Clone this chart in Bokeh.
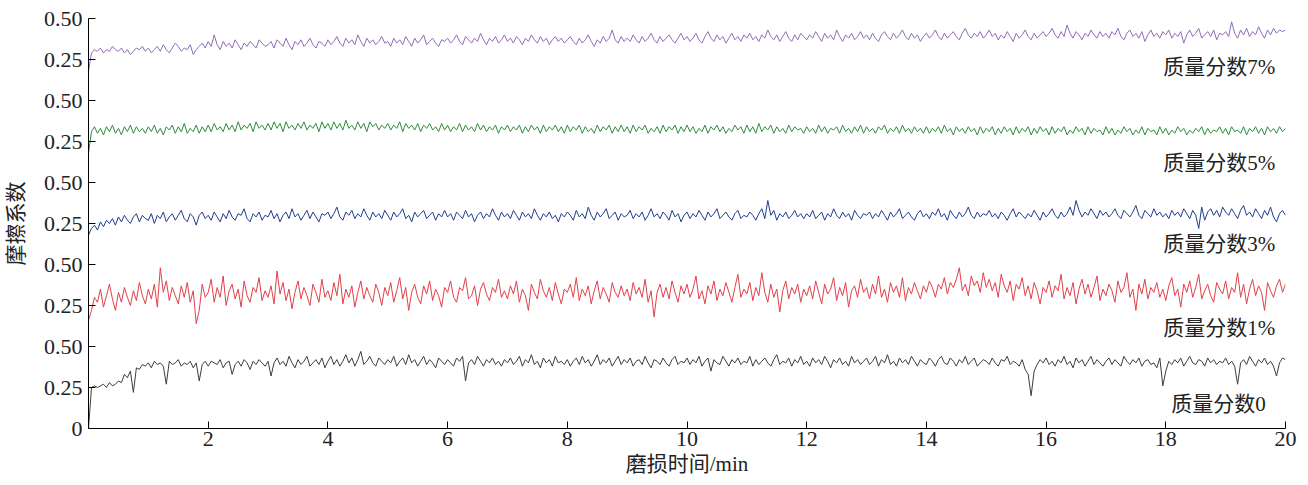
import numpy as np
from bokeh.plotting import figure
from bokeh.models import Range1d, FixedTicker, Label
from bokeh.embed import file_html
from bokeh.resources import INLINE

# friction coefficient traces (units of 0.01), sampled every 0.05 min from 0 to 20 min
mf0 = [
    0, 25, 26, 25, 26, 27, 25, 28, 26, 27, 29, 28, 33, 31, 35, 22, 37, 36, 39, 38,
    40, 37, 41, 39, 40, 38, 27, 41, 39, 40, 42, 38, 40, 39, 41, 37, 40, 29, 39, 41,
    38, 41, 40, 39, 42, 37, 40, 41, 33, 39, 41, 38, 42, 40, 36, 41, 39, 42, 40, 38,
    41, 32, 40, 43, 39, 41, 38, 44, 40, 37, 42, 39, 41, 44, 38, 40, 42, 39, 43, 37,
    41, 44, 39, 42, 38, 41, 45, 40, 43, 38, 42, 47, 39, 41, 44, 40, 38, 43, 41, 39,
    42, 40, 44, 38, 41, 43, 39, 45, 40, 42, 38, 41, 44, 39, 42, 40, 37, 43, 41, 39,
    42, 40, 38, 43, 41, 44, 29, 40, 42, 39, 44, 41, 38, 42, 40, 43, 39, 41, 38, 42,
    40, 43, 39, 41, 44, 38, 42, 40, 45, 39, 41, 37, 43, 40, 42, 38, 44, 40, 41, 39,
    42, 38, 41, 43, 39, 44, 40, 42, 38, 41, 45, 39, 42, 40, 43, 38, 41, 44, 39, 42,
    40, 43, 38, 41, 42, 39, 44, 40, 37, 42, 41, 39, 43, 40, 38, 42, 44, 39, 41, 40,
    43, 39, 42, 40, 44, 38, 41, 43, 35, 42, 40, 39, 44, 41, 38, 42, 40, 43, 39, 41,
    40, 44, 38, 42, 39, 41, 43, 40, 38, 42, 45, 39, 41, 40, 43, 38, 42, 40, 44, 39,
    41, 38, 43, 40, 42, 39, 44, 41, 37, 42, 40, 43, 39, 41, 38, 44, 40, 42, 39, 41,
    43, 39, 41, 44, 38, 42, 40, 45, 39, 41, 38, 43, 40, 42, 39, 44, 41, 38, 42, 40,
    39, 43, 41, 38, 42, 44, 40, 39, 43, 41, 38, 42, 40, 44, 39, 41, 43, 38, 40, 42,
    41, 39, 43, 40, 38, 42, 41, 44, 39, 41, 40, 38, 42, 36, 33, 20, 35, 39, 42, 40,
    43, 39, 41, 38, 42, 40, 44, 39, 41, 37, 43, 40, 42, 38, 41, 44, 39, 42, 40, 38,
    41, 43, 39, 42, 40, 38, 44, 41, 39, 42, 40, 43, 38, 41, 42, 39, 40, 37, 43, 26,
    35, 41, 39, 42, 40, 43, 38, 41, 44, 40, 39, 42, 41, 38, 43, 40, 42, 39, 41, 40,
    43, 39, 41, 38, 27, 40, 42, 39, 44, 41, 38, 42, 40, 43, 39, 41, 38, 32, 40, 43,
    42,
]
mf1 = [
    16, 22, 30, 27, 35, 24, 31, 38, 29, 22, 33, 27, 36, 30, 25, 34, 28, 39, 31, 26,
    35, 29, 38, 24, 48, 33, 40, 28, 36, 31, 26, 37, 30, 39, 27, 34, 14, 22, 38, 30,
    33, 41, 27, 36, 30, 43, 25, 34, 38, 29, 35, 24, 40, 31, 27, 36, 33, 42, 28, 34,
    30, 37, 26, 46, 32, 39, 28, 35, 23, 33, 40, 29, 36, 31, 25, 38, 33, 27, 41, 30,
    34, 28, 39, 31, 44, 26, 35, 30, 37, 24, 33, 40, 29, 36, 31, 27, 38, 33, 25, 36,
    31, 39, 27, 34, 42, 29, 36, 22, 33, 38, 30, 26, 37, 32, 40, 28, 35, 31, 24, 36,
    33, 40, 30, 27, 36, 34, 42, 29, 31, 37, 25, 35, 39, 32, 28, 36, 33, 41, 30, 34,
    29, 37, 32, 40, 27, 35, 31, 22, 38, 33, 29, 41, 34, 30, 36, 28, 39, 32, 26, 35,
    33, 38, 30, 42, 28, 35, 31, 37, 26, 34, 40, 29, 36, 32, 27, 39, 33, 30, 37, 31,
    35, 28, 39, 32, 36, 30, 41, 27, 34, 18, 33, 38, 30, 36, 29, 40, 33, 27, 37, 32,
    38, 30, 35, 43, 29, 34, 26, 37, 32, 40, 28, 35, 31, 39, 33, 27, 36, 44, 30, 35,
    32, 39, 28, 36, 31, 45, 33, 27, 38, 30, 35, 21, 34, 40, 29, 36, 32, 38, 27, 35,
    31, 37, 29, 40, 33, 26, 38, 32, 35, 42, 28, 36, 31, 39, 24, 34, 37, 30, 41, 33,
    36, 29, 38, 32, 43, 30, 35, 27, 39, 33, 37, 30, 42, 28, 36, 32, 39, 34, 29, 37,
    33, 40, 36, 30, 38, 35, 42, 32, 39, 36, 41, 48, 34, 38, 31, 43, 37, 40, 33, 45,
    36, 41, 34, 39, 30, 44, 37, 33, 40, 28, 38, 35, 42, 31, 37, 29, 39, 34, 26, 36,
    33, 40, 30, 37, 34, 44, 29, 36, 31, 39, 26, 35, 41, 32, 38, 30, 36, 43, 28, 35,
    31, 38, 34, 27, 40, 33, 36, 45, 30, 35, 22, 38, 32, 41, 29, 36, 33, 39, 30, 35,
    28, 37, 42, 31, 35, 24, 38, 33, 40, 30, 36, 44, 29, 34, 38, 31, 27, 39, 35, 32,
    40, 29, 36, 33, 45, 30, 38, 26, 35, 41, 31, 37, 33, 22, 39, 34, 30, 37, 41, 33,
    38,
]
mf3 = [
    18, 22, 24, 21, 26, 23, 27, 25, 28, 24, 29, 26, 30, 27, 25, 29, 31, 26, 30, 28,
    27, 31, 25, 30, 28, 32, 26, 29, 31, 27, 30, 33, 28, 26, 31, 29, 24, 30, 32, 28,
    30, 27, 32, 29, 26, 31, 28, 33, 29, 27, 31, 30, 34, 28, 26, 31, 29, 32, 27, 30,
    29, 33, 28, 31, 26, 30, 32, 28, 34, 29, 31, 27, 30, 33, 28, 32, 29, 26, 31, 30,
    32, 28, 31, 35, 29, 27, 32, 30, 33, 28, 31, 29, 34, 30, 27, 32, 29, 31, 28, 33,
    30, 27, 32, 29, 31, 34, 28, 30, 26, 32, 29, 31, 33, 28, 30, 32, 27, 31, 29, 33,
    29, 31, 27, 32, 30, 28, 33, 29, 31, 26, 30, 32, 28, 31, 29, 34, 30, 27, 32, 29,
    31, 28, 33, 30, 27, 32, 29, 31, 28, 34, 30, 27, 31, 29, 32, 28, 30, 26, 31, 29,
    32, 30, 27, 33, 29, 31, 28, 35, 30, 27, 32, 29, 31, 34, 28, 30, 32, 27, 31, 29,
    30, 33, 28, 31, 29, 32, 27, 30, 34, 29, 31, 28, 32, 30, 27, 33, 29, 31, 26, 30,
    32, 28, 31, 29, 33, 30, 27, 32, 29, 31, 34, 28, 30, 32, 29, 27, 31, 33, 28, 30,
    29, 32, 30, 27, 31, 34, 28, 39, 30, 33, 27, 31, 29, 32, 28, 30, 33, 29, 31, 28,
    31, 29, 33, 28, 30, 32, 27, 31, 29, 34, 30, 28, 32, 29, 31, 27, 33, 30, 28, 31,
    30, 32, 28, 31, 29, 33, 30, 27, 32, 29, 31, 34, 28, 30, 32, 29, 27, 31, 33, 29,
    31, 28, 32, 30, 34, 29, 31, 27, 33, 30, 28, 32, 29, 31, 35, 30, 28, 32, 29, 31,
    30, 33, 29, 31, 28, 32, 30, 27, 31, 34, 29, 32, 30, 28, 31, 29, 33, 30, 27, 32,
    29, 31, 34, 30, 28, 32, 29, 31, 35, 30, 39, 33, 29, 32, 30, 34, 31, 28, 33, 30,
    32, 29, 31, 34, 30, 28, 33, 31, 29, 32, 36, 30, 28, 33, 31, 29, 34, 30, 32, 29,
    31, 28, 33, 30, 32, 29, 34, 31, 28, 33, 30, 22, 35, 27, 32, 34, 30, 33, 29, 35,
    32, 30, 34, 31, 28, 33, 36, 30, 32, 29, 34, 31, 28, 33, 30, 35, 29, 26, 31, 33,
    30,
]
mf5 = [
    18, 31, 34, 30, 33, 29, 34, 31, 35, 30, 33, 29, 34, 31, 35, 30, 34, 31, 33, 30,
    34, 31, 35, 30, 33, 29, 34, 32, 35, 30, 34, 31, 36, 30, 33, 31, 35, 30, 34, 31,
    35, 31, 36, 32, 34, 31, 36, 32, 35, 31, 37, 32, 35, 33, 36, 31, 37, 33, 35, 32,
    36, 32, 37, 33, 36, 31, 37, 33, 35, 32, 36, 33, 37, 32, 35, 33, 36, 31, 37, 33,
    36, 32, 37, 33, 36, 32, 38, 33, 35, 32, 37, 33, 36, 31, 37, 34, 36, 32, 35, 33,
    36, 32, 35, 33, 37, 31, 36, 33, 35, 32, 36, 31, 35, 33, 36, 32, 34, 31, 36, 32,
    35, 31, 34, 32, 36, 31, 35, 32, 34, 31, 36, 32, 35, 31, 34, 32, 35, 30, 34, 32,
    35, 31, 34, 32, 35, 30, 34, 31, 35, 32, 34, 30, 35, 31, 34, 32, 35, 31, 34, 30,
    35, 31, 34, 32, 35, 30, 34, 31, 33, 30, 35, 31, 34, 32, 35, 30, 34, 31, 35, 31,
    34, 30, 35, 31, 34, 32, 35, 30, 33, 31, 34, 30, 35, 31, 34, 32, 35, 30, 34, 31,
    35, 31, 34, 30, 33, 31, 35, 30, 34, 32, 35, 31, 34, 30, 33, 31, 35, 32, 34, 30,
    35, 31, 34, 30, 36, 31, 34, 32, 35, 30, 34, 31, 33, 30, 35, 31, 34, 32, 33, 30,
    34, 31, 33, 30, 35, 31, 34, 30, 33, 32, 34, 30, 35, 31, 33, 30, 34, 31, 35, 30,
    34, 31, 33, 30, 34, 32, 35, 30, 33, 31, 34, 30, 35, 31, 33, 30, 34, 31, 33, 30,
    34, 30, 33, 31, 34, 30, 35, 31, 33, 29, 34, 31, 33, 30, 34, 31, 33, 29, 34, 30,
    33, 31, 34, 29, 33, 30, 34, 31, 33, 29, 34, 30, 33, 31, 34, 29, 33, 30, 34, 31,
    33, 29, 34, 30, 33, 31, 34, 29, 32, 30, 34, 31, 33, 29, 34, 30, 33, 31, 32, 29,
    34, 30, 33, 29, 32, 30, 34, 31, 33, 29, 32, 30, 34, 29, 33, 31, 32, 29, 34, 30,
    33, 29, 32, 30, 34, 31, 33, 29, 32, 30, 33, 31, 34, 29, 33, 30, 32, 31, 34, 30,
    33, 29, 34, 31, 32, 30, 34, 29, 33, 31, 34, 30, 33, 29, 34, 31, 33, 30, 34, 31,
    33,
]
mf7 = [
    18, 29, 31, 30, 32, 29, 31, 30, 33, 31, 30, 32, 29, 31, 28, 30, 32, 31, 33, 30,
    32, 29, 31, 33, 30, 34, 31, 29, 32, 35, 33, 30, 32, 31, 34, 28, 31, 33, 35, 32,
    36, 33, 40, 34, 31, 36, 33, 35, 32, 37, 34, 31, 35, 33, 36, 34, 32, 37, 35, 33,
    34, 36, 32, 37, 35, 33, 38, 34, 31, 36, 34, 37, 33, 35, 38, 34, 32, 36, 35, 33,
    37, 34, 36, 39, 35, 33, 38, 35, 37, 34, 40, 36, 33, 38, 35, 37, 34, 36, 39, 35,
    36, 33, 38, 35, 37, 34, 39, 36, 33, 38, 35, 37, 40, 34, 36, 38, 35, 33, 37, 36,
    38, 35, 37, 40, 36, 34, 39, 37, 35, 38, 36, 41, 37, 34, 38, 36, 39, 35, 37, 40,
    36, 38, 35, 39, 37, 34, 38, 36, 40, 37, 35, 39, 36, 38, 34, 37, 39, 36, 38, 35,
    37, 39, 36, 34, 38, 35, 37, 40, 36, 33, 37, 35, 39, 36, 38, 43, 37, 35, 39, 36,
    38, 36, 40, 37, 35, 39, 36, 38, 41, 37, 35, 39, 36, 38, 40, 37, 35, 38, 41, 37,
    39, 36, 38, 41, 37, 35, 39, 42, 38, 36, 40, 37, 39, 35, 38, 41, 37, 39, 36, 40,
    38, 41, 37, 39, 36, 40, 38, 43, 39, 37, 40, 36, 39, 42, 38, 36, 40, 37, 41, 39,
    37, 40, 38, 42, 39, 36, 41, 38, 40, 37, 43, 39, 36, 40, 38, 41, 37, 39, 42, 38,
    40, 37, 41, 38, 36, 40, 42, 39, 37, 41, 38, 40, 43, 39, 37, 41, 38, 40, 36, 39,
    41, 38, 40, 43, 39, 37, 41, 38, 40, 42, 39, 37, 41, 44, 40, 38, 41, 39, 42, 38,
    40, 43, 39, 41, 37, 40, 38, 42, 39, 36, 41, 38, 40, 43, 39, 37, 41, 38, 40, 42,
    39, 41, 44, 40, 38, 42, 39, 46, 41, 38, 42, 40, 37, 41, 39, 43, 40, 38, 42, 39,
    41, 38, 42, 40, 44, 39, 37, 41, 43, 39, 41, 38, 42, 36, 40, 43, 39, 41, 38, 42,
    40, 43, 38, 41, 39, 42, 35, 40, 43, 39, 41, 44, 38, 40, 42, 39, 43, 37, 41, 40,
    42, 39, 48, 41, 38, 43, 40, 44, 39, 42, 40, 45, 41, 38, 43, 40, 44, 41, 43, 42,
    43,
]

series = [mf0, mf1, mf3, mf5, mf7]
labels = ["质量分数0", "质量分数1%", "质量分数3%", "质量分数5%", "质量分数7%"]
x_ticks = [2, 4, 6, 8, 10, 12, 14, 16, 18, 20]
y_ticks = [0, 0.25, 0.5, 0.75, 1.0, 1.25, 1.5, 1.75, 2.0, 2.25, 2.5]
y_tick_labels = ["0", "0.25", "0.50", "0.25", "0.50", "0.25", "0.50", "0.25", "0.50", "0.25", "0.50"]

# layout / style
offsets = [0.0, 0.5, 1.0, 1.5, 2.0]
colors = ["#3d3d3d", "#e0404a", "#1f3c8f", "#2e8c3c", "#8f6db7"]
label_pos = [(19.67, 0.152), (19.83, 0.61), (19.83, 1.128), (19.83, 1.616), (19.83, 2.207)]
FONT = "Liberation Serif, Noto Sans CJK SC"

p = figure(width=1300, height=485, x_range=Range1d(0, 20), y_range=Range1d(0, 2.5),
           output_backend="svg", toolbar_location=None,
           min_border_left=88, min_border_right=15, min_border_top=18, min_border_bottom=57)

for vals, off, col in zip(series, offsets, colors):
    t = np.linspace(0, 20, len(vals))
    y = np.array(vals) / 100.0 + off
    p.line(t, y, line_color=col, line_width=1)

for txt, (lx, ly) in zip(labels, label_pos):
    p.add_layout(Label(x=lx, y=ly, text=txt, text_align="right", text_baseline="middle",
                       text_font=FONT, text_font_size="21px", text_color="#222222"))

p.xgrid.visible = False
p.ygrid.visible = False
p.outline_line_color = None
p.background_fill_color = "white"
p.border_fill_color = "white"

p.xaxis.ticker = FixedTicker(ticks=x_ticks)
p.yaxis.ticker = FixedTicker(ticks=y_ticks)
p.yaxis.major_label_overrides = {v: s for v, s in zip(y_ticks, y_tick_labels)}

for ax in (p.xaxis[0], p.yaxis[0]):
    ax.major_tick_in = 7
    ax.major_tick_out = 0
    ax.minor_tick_in = 0
    ax.minor_tick_out = 0
    ax.axis_line_color = "black"
    ax.major_tick_line_color = "black"
    ax.major_label_text_font = FONT
    ax.major_label_text_font_size = "22px"
    ax.major_label_text_color = "#222222"
    ax.axis_label_text_font = FONT
    ax.axis_label_text_font_size = "21px"
    ax.axis_label_text_font_style = "normal"
    ax.axis_label_text_color = "#222222"

p.xaxis.axis_label = "磨损时间/min"
p.yaxis.axis_label = "摩擦系数"
p.xaxis.major_label_standoff = 3
p.xaxis.axis_label_standoff = 3
p.yaxis.major_label_standoff = 6
p.yaxis.axis_label_standoff = 13

open("out.html", "w").write(file_html(p, INLINE))
